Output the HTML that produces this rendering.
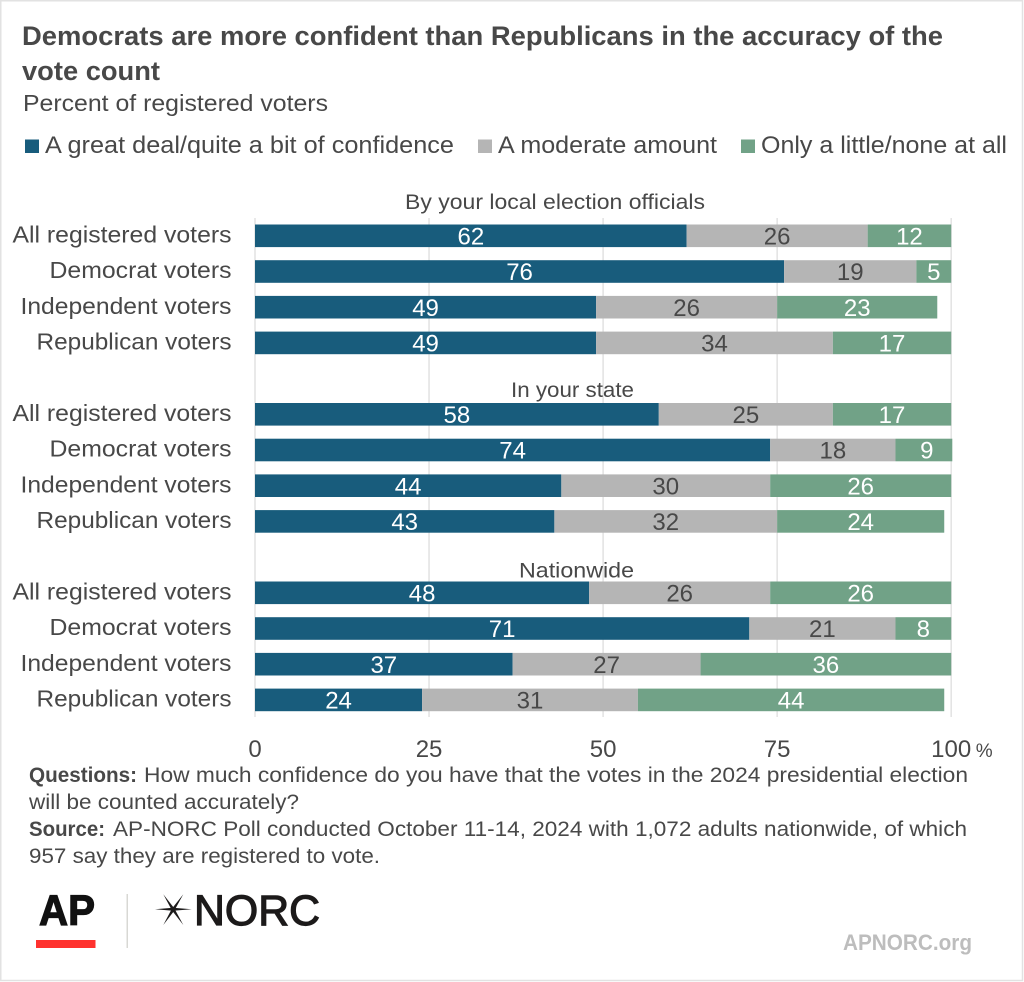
<!DOCTYPE html>
<html lang="en">
<head>
<meta charset="utf-8">
<title>Democrats are more confident than Republicans in the accuracy of the vote count</title>
<style>
  html, body { margin: 0; padding: 0; background: #fff; }
  body { width: 1024px; height: 982px; overflow: hidden; }
  svg { display: block; }
  text { font-family: "Liberation Sans", Arial, sans-serif; fill: #484848; }
</style>
</head>
<body>
<svg id="chart" width="1024" height="982" viewBox="0 0 1024 982" xmlns="http://www.w3.org/2000/svg">
  <rect x="0.75" y="0.75" width="1021.75" height="979.75" fill="#fff" stroke="#e2e2e2" stroke-width="1.5"/>

  <text x="22" y="45" font-size="26.5" font-weight="700" textLength="921" lengthAdjust="spacingAndGlyphs">Democrats are more confident than Republicans in the accuracy of the</text>
  <text x="22" y="80" font-size="26.5" font-weight="700" textLength="138" lengthAdjust="spacingAndGlyphs">vote count</text>
  <text x="23" y="111" font-size="23" textLength="305" lengthAdjust="spacingAndGlyphs">Percent of registered voters</text>

  <g>
    <rect x="25" y="139.5" width="14" height="13.5" fill="#185c7c"/>
    <text x="45" y="153" font-size="24" textLength="409" lengthAdjust="spacingAndGlyphs">A great deal/quite a bit of confidence</text>
    <rect x="478" y="139.5" width="14" height="13.5" fill="#b5b5b5"/>
    <text x="498" y="153" font-size="24" textLength="219" lengthAdjust="spacingAndGlyphs">A moderate amount</text>
    <rect x="741" y="139.5" width="14" height="13.5" fill="#71a287"/>
    <text x="761" y="153" font-size="24" textLength="246" lengthAdjust="spacingAndGlyphs">Only a little/none at all</text>
  </g>

  <g id="grid"></g>
  <g id="bars"></g>
  <g id="axis"></g>

  <g>
    <text x="29" y="782" font-size="21.5" font-weight="700" textLength="108" lengthAdjust="spacingAndGlyphs">Questions:</text>
    <text x="144" y="782" font-size="21.5" textLength="824" lengthAdjust="spacingAndGlyphs">How much confidence do you have that the votes in the 2024 presidential election</text>
    <text x="29" y="809" font-size="21.5" textLength="270" lengthAdjust="spacingAndGlyphs">will be counted accurately?</text>
    <text x="29" y="836" font-size="21.5" font-weight="700" textLength="76" lengthAdjust="spacingAndGlyphs">Source:</text>
    <text x="113" y="836" font-size="21.5" textLength="854" lengthAdjust="spacingAndGlyphs">AP-NORC Poll conducted October 11-14, 2024 with 1,072 adults nationwide, of which</text>
    <text x="29" y="863" font-size="21.5" textLength="351" lengthAdjust="spacingAndGlyphs">957 say they are registered to vote.</text>
  </g>

  <g>
    <text x="39" y="925" font-size="43" font-weight="700" textLength="56" lengthAdjust="spacingAndGlyphs" stroke="#111" stroke-width="1.2" style="fill:#111">AP</text>
    <rect x="36" y="940" width="59.5" height="8" fill="#ff322e"/>
    <rect x="126.5" y="894" width="1.5" height="54" fill="#d8d8d4"/>
    <g fill="#1c1a1a">
      <polygon points="155,909.3 173,907.8 191.7,909.3 173,910.8"/>
      <polygon points="163.3,894.3 174.4,908.5 183.3,925 172,910.5"/>
      <polygon points="183.3,894.3 174.4,910.5 163.3,925 172,908.5"/>
    </g>
    <text x="194" y="925" font-size="43" textLength="126" lengthAdjust="spacingAndGlyphs" stroke="#1c1a1a" stroke-width="1.2" style="fill:#1c1a1a">NORC</text>
    <text x="843" y="950" font-size="22" font-weight="700" textLength="129" lengthAdjust="spacingAndGlyphs" style="fill:#bdbdbd">APNORC.org</text>
  </g>
</svg>
<script>
const sectionTitles = ["By your local election officials", "In your state", "Nationwide"];
const voterGroups = ["All registered voters", "Democrat voters", "Independent voters", "Republican voters"];
const greatDeal = [62, 76, 49, 49, 58, 74, 44, 43, 48, 71, 37, 24];
const moderate = [26, 19, 26, 34, 25, 18, 30, 32, 26, 21, 27, 31];
const little = [12, 5, 23, 17, 17, 9, 26, 24, 26, 8, 36, 44];
const xTicks = [0, 25, 50, 75, 100];

const SVG_NS = "http://www.w3.org/2000/svg";
const X0 = 255, X100 = 951.2, PLOT_RIGHT = 952.3;
const FIRST_TOP = 224.5, ROW_STEP = 35.7, GROUP_STEP = 178.5, BAR_H = 22.6;
const INK = "#484848";
const seriesStyles = [
  { name: "great-deal", fill: "#185c7c", label: "#ffffff" },
  { name: "moderate", fill: "#b5b5b5", label: INK },
  { name: "little", fill: "#71a287", label: "#ffffff" }
];
const groupLabelWidth = { "All registered voters": 219, "Democrat voters": 182, "Independent voters": 211, "Republican voters": 195 };
const sectionLayout = [
  { cx: 555, base: 209, width: 300 },
  { cx: 572.5, base: 397, width: 123 },
  { cx: 576.5, base: 577.3, width: 115 }
];

function xScale(v) { return X0 + (X100 - X0) * v / 100; }
function rowTop(i) {
  const g = Math.floor(i / voterGroups.length);
  const r = i % voterGroups.length;
  return FIRST_TOP + g * GROUP_STEP + r * ROW_STEP;
}
function make(tag, attrs, parent, content) {
  const el = document.createElementNS(SVG_NS, tag);
  for (const k in attrs) el.setAttribute(k, attrs[k]);
  if (content !== undefined) el.textContent = content;
  parent.appendChild(el);
  return el;
}

const gridLayer = document.getElementById("grid");
const barLayer = document.getElementById("bars");
const axisLayer = document.getElementById("axis");

xTicks.forEach(function (t) {
  const line = make("line", { x1: xScale(t), x2: xScale(t), y1: 218, y2: 717, stroke: "#e2e2e2", "stroke-width": 1.5 }, gridLayer);
  
  
  const label = make("text", { x: xScale(t), y: 757, "font-size": 24, "text-anchor": "middle" }, axisLayer, String(t));
  
  
});
const percent = make("text", { x: xScale(100) + 24.5, y: 757, "font-size": 19 }, axisLayer, "%");



sectionTitles.forEach(function (title, g) {
  const lay = sectionLayout[g];
  const el = make("text", { x: lay.cx - lay.width / 2, y: lay.base, "font-size": 21.5, textLength: lay.width, lengthAdjust: "spacingAndGlyphs" }, barLayer, title);
  
  
});

greatDeal.forEach(function (_, i) {
  const top = rowTop(i);
  const group = voterGroups[i % voterGroups.length];
  const w = groupLabelWidth[group];
  const rowLabel = make("text", { x: 231.5 - w, y: top + 18, "font-size": 23.5, textLength: w, lengthAdjust: "spacingAndGlyphs" }, barLayer, group);
  
  

  const values = [greatDeal[i], moderate[i], little[i]];
  let cum = 0;
  values.forEach(function (v, s) {
    const style = seriesStyles[s];
    const x1 = xScale(cum), x2 = xScale(cum + v);
    const barEnd = Math.min(x2, PLOT_RIGHT);
    const bar = make("rect", { x: x1, y: top, width: barEnd - x1, height: BAR_H, fill: style.fill }, barLayer);
    
    
    const val = make("text", { x: (x1 + x2) / 2, y: top + 20, "font-size": 24, "text-anchor": "middle" }, barLayer, String(v));
    val.style.fill = style.label;
    
    
    cum += v;
  });
});
</script>
</body>
</html>
